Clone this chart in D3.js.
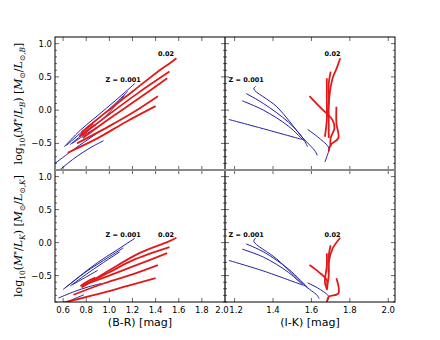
<!DOCTYPE html>
<html><head><meta charset="utf-8">
<script src="https://cdn.jsdelivr.net/npm/d3@7"></script>
<style>body{margin:0;background:#fff}svg{display:block}</style>
</head><body>
<script>
// ---- data ----
const brTicks = [0.6, 0.8, 1.0, 1.2, 1.4, 1.6, 1.8, 2.0];
const ikTicks = [1.2, 1.4, 1.6, 1.8, 2.0];
const mlTicks = [-0.5, 0.0, 0.5, 1.0];
const xLabels = ["(B-R) [mag]", "(I-K) [mag]"];
const zLabels = ["Z = 0.001", "0.02"];

// top-left: (B-R, log M/L_B)
const tlBlue = [
  [[0.61,-0.55],[0.75,-0.30],[0.9,-0.08],[1.05,0.14],[1.22,0.40]],
  [[0.63,-0.53],[0.8,-0.27],[0.95,-0.06],[1.16,0.28]],
  [[0.66,-0.52],[0.8,-0.32],[0.95,-0.12],[1.13,0.22]],
  [[0.68,-0.50],[0.78,-0.38],[0.9,-0.25]],
  [[0.53,-0.80],[0.7,-0.58],[0.85,-0.40],[0.95,-0.28]],
  [[0.57,-0.90],[0.7,-0.72],[0.85,-0.55],[0.95,-0.46]]
];
const tlRed = [
  [[0.76,-0.33],[0.95,-0.06],[1.2,0.28],[1.45,0.62],[1.52,0.70],[1.58,0.78]],
  [[0.76,-0.38],[1.0,-0.06],[1.25,0.26],[1.52,0.58]],
  [[0.77,-0.42],[1.0,-0.13],[1.25,0.17],[1.5,0.48]],
  [[0.72,-0.50],[1.0,-0.24],[1.2,-0.04],[1.42,0.21]],
  [[0.64,-0.64],[0.9,-0.42],[1.15,-0.17],[1.40,0.06]],
  [[0.74,-0.40],[0.8,-0.28],[0.86,-0.20]],
  [[0.78,-0.36],[0.84,-0.26],[0.88,-0.22]]
];
// top-right: (I-K, log M/L_B)
const trBlue = [
  [[1.31,0.36],[1.30,0.32],[1.42,0.05],[1.55,-0.40],[1.62,-0.62],[1.63,-0.68]],
  [[1.26,0.25],[1.35,0.10],[1.48,-0.18],[1.55,-0.40],[1.58,-0.55]],
  [[1.24,0.14],[1.35,0.00],[1.48,-0.24],[1.56,-0.46]],
  [[1.17,-0.14],[1.35,-0.28],[1.55,-0.44]],
  [[1.58,-0.29],[1.64,-0.42],[1.69,-0.57],[1.68,-0.70],[1.67,-0.78]]
];
const trRed = [
  [[1.59,0.21],[1.65,0.03],[1.71,-0.15],[1.72,-0.27],[1.70,-0.42],[1.70,-0.55]],
  [[1.75,0.78],[1.73,0.62],[1.71,0.48],[1.69,0.10],[1.69,-0.05],[1.69,-0.42]],
  [[1.70,0.58],[1.69,0.40],[1.69,0.10],[1.68,-0.10]],
  [[1.68,0.48],[1.68,0.20],[1.68,-0.15],[1.67,-0.40]],
  [[1.73,0.05],[1.73,-0.20],[1.74,-0.42],[1.70,-0.52],[1.69,-0.62]]
];
// bottom-left: (B-R, log M/L_K)
const blBlue = [
  [[0.60,-0.71],[0.75,-0.50],[0.9,-0.30],[1.05,-0.13],[1.22,0.065]],
  [[0.63,-0.67],[0.8,-0.44],[0.95,-0.27],[1.12,-0.08]],
  [[0.66,-0.66],[0.8,-0.48],[0.95,-0.30],[1.09,-0.14]],
  [[0.68,-0.64],[0.78,-0.54],[0.9,-0.42]],
  [[0.56,-0.84],[0.7,-0.74],[0.82,-0.67],[0.93,-0.62]],
  [[0.60,-0.92],[0.7,-0.85],[0.78,-0.79]]
];
const blRed = [
  [[0.76,-0.68],[1.0,-0.42],[1.26,-0.16],[1.51,0.014],[1.58,0.074]],
  [[0.77,-0.66],[1.0,-0.45],[1.2,-0.27],[1.52,-0.07]],
  [[0.78,-0.64],[1.0,-0.50],[1.25,-0.33],[1.5,-0.16]],
  [[0.69,-0.79],[0.95,-0.62],[1.2,-0.48],[1.42,-0.34]],
  [[0.60,-0.91],[0.9,-0.78],[1.15,-0.66],[1.40,-0.54]],
  [[0.75,-0.66],[0.82,-0.58],[0.88,-0.53]]
];
// bottom-right: (I-K, log M/L_K)
const brBlue = [
  [[1.31,0.07],[1.30,0.02],[1.42,-0.25],[1.56,-0.64],[1.63,-0.80],[1.64,-0.85]],
  [[1.26,-0.02],[1.35,-0.14],[1.48,-0.40],[1.58,-0.68]],
  [[1.24,-0.10],[1.35,-0.22],[1.48,-0.45],[1.56,-0.66]],
  [[1.17,-0.27],[1.35,-0.43],[1.55,-0.64]],
  [[1.58,-0.61],[1.64,-0.70],[1.69,-0.82],[1.68,-0.90]]
];
const brRed = [
  [[1.59,-0.34],[1.64,-0.45],[1.68,-0.57],[1.68,-0.72]],
  [[1.75,0.074],[1.71,-0.09],[1.69,-0.30],[1.69,-0.50],[1.68,-0.68]],
  [[1.70,-0.04],[1.69,-0.20],[1.69,-0.45]],
  [[1.68,-0.16],[1.68,-0.35],[1.67,-0.60],[1.68,-0.70]],
  [[1.73,-0.54],[1.74,-0.77],[1.69,-0.82],[1.68,-0.91]]
];

// ---- layout ----
const W = 440, H = 340;
const L = 55, M = 225, R = 395, T = 37, MID = 170, B = 302;
const svg = d3.select("body").append("svg").attr("width", W).attr("height", H);

const xBR = d3.scaleLinear().domain([0.53, 2.0]).range([L, M]);
const xIK = d3.scaleLinear().domain([1.15, 2.035]).range([M, R]);
const yTop = d3.scaleLinear().domain([-0.9, 1.1]).range([MID, T]);
const yBot = d3.scaleLinear().domain([-0.9, 1.1]).range([B, MID]);

const BLUE = "#1f1fa0", RED = "#e01a1a";
const panels = [
  {x: xBR, y: yTop, blue: tlBlue, red: tlRed, id: "tl", lab: [[1.12,0.46],[1.49,0.855]]},
  {x: xIK, y: yTop, blue: trBlue, red: trRed, id: "tr", lab: [[1.26,0.46],[1.71,0.855]]},
  {x: xBR, y: yBot, blue: blBlue, red: blRed, id: "bl", lab: [[1.12,0.115],[1.49,0.115]]},
  {x: xIK, y: yBot, blue: brBlue, red: brRed, id: "br", lab: [[1.26,0.125],[1.71,0.125]]}
];

const defs = svg.append("defs");
panels.forEach(p => {
  const [x0, x1] = p.x.range(), [y1, y0] = p.y.range();
  defs.append("clipPath").attr("id", "c" + p.id).append("rect")
    .attr("x", x0).attr("y", y0).attr("width", x1 - x0).attr("height", y1 - y0);
  const g = svg.append("g").attr("clip-path", `url(#c${p.id})`);
  const line = d3.line().x(d => p.x(d[0])).y(d => p.y(d[1])).curve(d3.curveCatmullRom.alpha(0.5));
  g.selectAll(".b").data(p.blue).join("path").attr("d", line)
    .attr("fill", "none").attr("stroke", BLUE).attr("stroke-width", 1);
  g.selectAll(".r").data(p.red).join("path").attr("d", line)
    .attr("fill", "none").attr("stroke", RED).attr("stroke-width", 1.8);
  svg.selectAll(null).data(p.lab).join("text")
    .attr("x", d => p.x(d[0])).attr("y", d => p.y(d[1]))
    .attr("text-anchor", "middle").attr("dy", "0.35em")
    .attr("font-family", "DejaVu Sans").attr("font-size", 6.5).attr("font-weight", "bold")
    .text((d, i) => zLabels[i]);

  // ticks (inside) on all four sides
  const tg = svg.append("g").attr("stroke", "#000").attr("stroke-width", 0.6);
  const xt = p.x === xBR ? brTicks : ikTicks;
  xt.forEach(v => {
    const X = p.x(v);
    if (X <= x0 + 0.5 || X >= x1 - 0.5) return;
    tg.append("line").attr("x1", X).attr("x2", X).attr("y1", y1).attr("y2", y1 - 4);
    tg.append("line").attr("x1", X).attr("x2", X).attr("y1", y0).attr("y2", y0 + 4);
  });
  d3.range(-9, 11).forEach(k => {
    const v = k / 10, Y = p.y(v);
    const major = k % 5 === 0;
    const len = major ? 4 : 2;
    tg.append("line").attr("x1", x0).attr("x2", x0 + len).attr("y1", Y).attr("y2", Y);
    tg.append("line").attr("x1", x1).attr("x2", x1 - len).attr("y1", Y).attr("y2", Y);
  });
});

// frames
svg.append("rect").attr("x", L).attr("y", T).attr("width", R - L).attr("height", B - T)
  .attr("fill", "none").attr("stroke", "#000").attr("stroke-width", 1);
svg.append("line").attr("x1", M).attr("x2", M).attr("y1", T).attr("y2", B)
  .attr("stroke", "#000").attr("stroke-width", 1.2);
svg.append("line").attr("x1", L).attr("x2", R).attr("y1", MID).attr("y2", MID)
  .attr("stroke", "#8a8a8a").attr("stroke-width", 2);

// y tick labels (left panels)
const fmt = v => (v < 0 ? "\u2212" : "") + Math.abs(v).toFixed(1);
[yTop, yBot].forEach(ys => {
  svg.selectAll(null).data(mlTicks).join("text")
    .attr("x", L - 3).attr("y", d => ys(d)).attr("dy", "0.35em")
    .attr("text-anchor", "end").attr("font-family", "DejaVu Sans").attr("font-size", 8.5)
    .text(fmt);
});
// x tick labels (the 2.0 / 1.2 pair at the shared edge nudged apart)
svg.selectAll(null).data(brTicks).join("text")
  .attr("x", d => xBR(d) - (d === 2.0 ? 3 : 0)).attr("y", B + 11).attr("text-anchor", "middle")
  .attr("font-family", "DejaVu Sans").attr("font-size", 8.5).text(d => d.toFixed(1));
svg.selectAll(null).data(ikTicks).join("text")
  .attr("x", d => xIK(d) + (d === 1.2 ? 1.5 : 0)).attr("y", B + 11).attr("text-anchor", "middle")
  .attr("font-family", "DejaVu Sans").attr("font-size", 8.5).text(d => d.toFixed(1));
// x axis titles
svg.append("text").attr("x", (L + M) / 2).attr("y", B + 24).attr("text-anchor", "middle")
  .attr("font-family", "DejaVu Sans").attr("font-size", 11).text(xLabels[0]);
svg.append("text").attr("x", (M + R) / 2).attr("y", B + 24).attr("text-anchor", "middle")
  .attr("font-family", "DejaVu Sans").attr("font-size", 11).text(xLabels[1]);

// y axis titles
function yTitle(cy, band) {
  const t = svg.append("text").attr("transform", `translate(22,${cy}) rotate(-90)`)
    .attr("text-anchor", "middle").attr("font-family", "DejaVu Serif").attr("font-size", 11);
  const s = 7.5;
  t.append("tspan").text("log");
  t.append("tspan").attr("font-size", s).attr("dy", 3).text("10");
  t.append("tspan").attr("dy", -3).text("(");
  t.append("tspan").attr("font-style", "italic").text("M");
  t.append("tspan").attr("font-size", s).attr("dy", -3.5).text("*");
  t.append("tspan").attr("dy", 3.5).text("/");
  t.append("tspan").attr("font-style", "italic").text("L");
  t.append("tspan").attr("font-size", s).attr("font-style", "italic").attr("dy", 3).text(band);
  t.append("tspan").attr("dy", -3).text(")  [");
  t.append("tspan").attr("font-style", "italic").text("M");
  t.append("tspan").attr("font-size", s).attr("dy", 3).text("\u2299");
  t.append("tspan").attr("dy", -3).text("/");
  t.append("tspan").attr("font-style", "italic").text("L");
  t.append("tspan").attr("font-size", s).attr("dy", 3).text("\u2299,");
  t.append("tspan").attr("font-size", s).attr("font-style", "italic").text(band);
  t.append("tspan").attr("dy", -3).text("]");
}
yTitle((T + MID) / 2, "B");
yTitle((MID + B) / 2, "K");
</script>
</body></html>
